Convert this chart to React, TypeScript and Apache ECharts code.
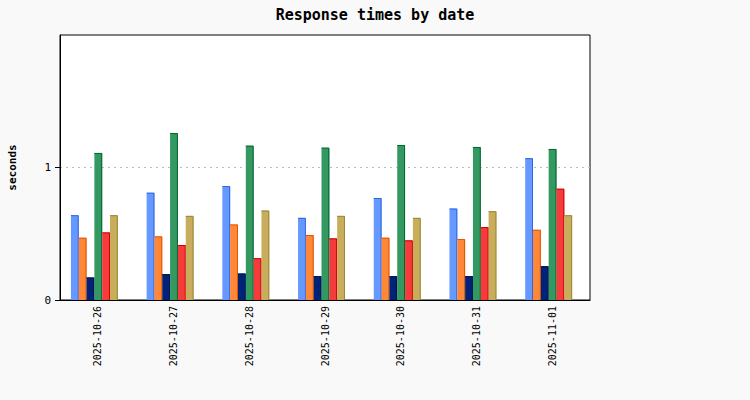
import React, { useEffect, useRef } from "react";
import * as echarts from "echarts";

const dates = [
  "2025-10-26",
  "2025-10-27",
  "2025-10-28",
  "2025-10-29",
  "2025-10-30",
  "2025-10-31",
  "2025-11-01",
];

const seriesA = [0.64, 0.81, 0.86, 0.62, 0.77, 0.69, 1.07];
const seriesB = [0.47, 0.48, 0.57, 0.49, 0.47, 0.46, 0.53];
const seriesC = [0.17, 0.195, 0.2, 0.18, 0.18, 0.18, 0.255];
const seriesD = [1.11, 1.26, 1.165, 1.15, 1.17, 1.155, 1.14];
const seriesE = [0.51, 0.415, 0.315, 0.465, 0.45, 0.55, 0.84];
const seriesF = [0.64, 0.635, 0.675, 0.635, 0.62, 0.67, 0.64];

const allSeries = [seriesA, seriesB, seriesC, seriesD, seriesE, seriesF];
const fills = ["#6699ff", "#ff8838", "#002277", "#339960", "#f53b3b", "#c8ad5c"];
const edges = ["#3366dd", "#dd5500", "#001155", "#006633", "#cc0000", "#998833"];

const yTicks = [0, 1];

const mono = "'DejaVu Sans Mono', monospace";

const App: React.FC = () => {
  const chartRef = useRef<HTMLDivElement>(null);

  useEffect(() => {
    if (!chartRef.current) return;
    document.body.style.margin = "0";
    const chart = echarts.init(chartRef.current, undefined, { renderer: "svg" });
    const n = allSeries.length;

    const option: echarts.EChartsOption = {
      animation: false,
      backgroundColor: "#f9f9f9",
      title: {
        text: "Response times by date",
        left: "center",
        top: 2,
        textStyle: { fontFamily: mono, fontSize: 15, fontWeight: "bold", color: "#000" },
      },
      grid: {
        left: 60,
        top: 35,
        width: 530,
        height: 265,
        outerBoundsMode: "none",
        containLabel: false,
        show: true,
        backgroundColor: "#ffffff",
        borderColor: "#000",
        borderWidth: 1,
      } as any,
      xAxis: {
        type: "category",
        data: dates,
        axisLine: { lineStyle: { color: "#000", width: 1 } },
        axisTick: { show: false },
        axisLabel: { rotate: 90, fontFamily: mono, fontSize: 10, color: "#000", margin: 6 },
      },
      yAxis: {
        type: "value",
        min: 0,
        max: 2,
        interval: 1,
        name: "seconds",
        nameLocation: "middle",
        nameRotate: 90,
        nameGap: 42,
        nameTextStyle: { fontFamily: mono, fontSize: 11, fontWeight: "bold", color: "#000" },
        axisLine: { show: true, lineStyle: { color: "#000", width: 1 } },
        axisTick: { show: true, length: 5, customValues: yTicks, lineStyle: { color: "#000" } },
        axisLabel: { fontFamily: mono, fontSize: 11, color: "#000", margin: 9, customValues: yTicks },
        splitLine: { show: true, lineStyle: { color: "#bbbbbb", type: [2, 4], width: 1 } },
      },
      series: allSeries.map((vals, si) => ({
        type: "custom",
        data: vals.map((v, i) => [i, v]),
        renderItem: (params: any, api: any) => {
          const cat = api.value(0);
          const val = api.value(1);
          const base = api.coord([cat, 0]);
          const top = api.coord([cat, val]);
          const band = api.size([1, 0])[0];
          const w = (band * 0.62) / n;
          const x0 = base[0] - (n / 2) * w - band * 0.046 + si * w;
          const x1 = x0 + w;
          const y0 = base[1];
          const y1 = top[1];
          return {
            type: "group",
            children: [
              {
                type: "rect",
                shape: { x: x0, y: y1, width: w, height: y0 - y1 },
                style: { fill: fills[si] },
              },
              {
                type: "polyline",
                shape: {
                  points: [
                    [x0, y1 + 0.5],
                    [x1 - 0.5, y1 + 0.5],
                    [x1 - 0.5, y0],
                  ],
                },
                style: { stroke: edges[si], lineWidth: 1, fill: "none" },
              },
            ],
          };
        },
      })) as any,
    };

    chart.setOption(option);
    return () => {
      chart.dispose();
    };
  }, []);

  return <div ref={chartRef} style={{ width: 750, height: 400 }} />;
};

export default App;
